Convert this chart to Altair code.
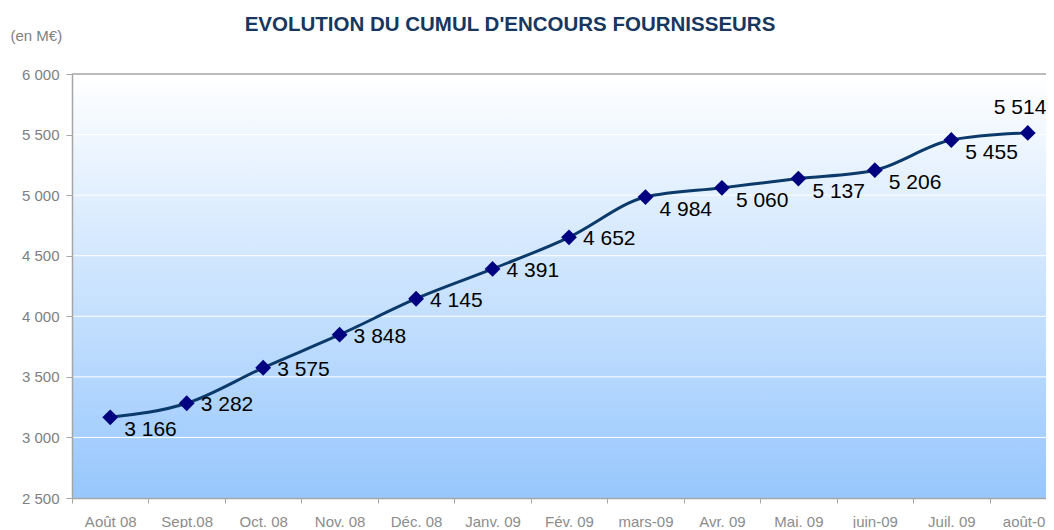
import altair as alt
import pandas as pd

months = ["Août 08", "Sept.08", "Oct. 08", "Nov. 08", "Déc. 08", "Janv. 09", "Fév. 09",
          "mars-09", "Avr. 09", "Mai. 09", "juin-09", "Juil. 09", "août-09"]
encours = [3166, 3282, 3575, 3848, 4145, 4391, 4652, 4984, 5060, 5137, 5206, 5455, 5514]
label_side = ["below", "right", "right", "right", "right", "right", "right",
              "below", "below", "below", "below", "below", "above"]
y_ticks = [2500, 3000, 3500, 4000, 4500, 5000, 5500, 6000]

df = pd.DataFrame({"mois": months, "encours": encours, "side": label_side})
grid_df = pd.DataFrame({"encours": y_ticks[1:-1]})
top_df = pd.DataFrame({"encours": y_ticks[-1:]})

FONT = "Liberation Sans"
GRAY = "#A6A6A6"
W, H = 974, 424          # visible plot area (the page cuts the last band)
XRANGE = 994             # full 13-band width, partly beyond the page edge

yscale = alt.Scale(domain=[2500, 6000], nice=False, zero=False)
yaxis = alt.Axis(values=y_ticks,
                 labelExpr="replace(format(datum.value, ','), ',', ' ')",
                 labelColor="#808080", labelFontSize=15, labelFont=FONT,
                 labelPadding=7, tickSize=6, tickColor=GRAY,
                 domainColor=GRAY, domainWidth=1.5, grid=False, zindex=1,
                 titleAngle=0, titleAlign="left", titleBaseline="middle",
                 titleX=-62, titleY=-39, titleColor="#808080",
                 titleFont=FONT, titleFontSize=15, titleFontWeight="normal")
y = alt.Y("encours:Q", title="(en M€)", scale=yscale, axis=yaxis)

x = alt.X("mois:N", sort=months, title=None,
          scale=alt.Scale(type="band", paddingInner=0, paddingOuter=0, range=[0, XRANGE]),
          axis=alt.Axis(tickBand="extent", labelAngle=0, labelColor="#8C8C8C",
                        labelFontSize=15, labelFont=FONT, labelPadding=11,
                        tickSize=5, tickColor=GRAY, domainColor=GRAY, domainWidth=1.5,
                        grid=False, zindex=1))

bg = alt.Chart(pd.DataFrame({"a": [0]})).mark_rect(
    color=alt.LinearGradient(gradient="linear", x1=0, y1=0, x2=0, y2=1,
                             stops=[alt.GradientStop(offset=0, color="#FFFFFF"),
                                    alt.GradientStop(offset=1, color="#97C7FD")])
).encode(x=alt.value(0), x2=alt.value(W), y=alt.value(0), y2=alt.value(H))

grid = alt.Chart(grid_df).mark_rule(color="#FFFFFF", strokeWidth=1).encode(y=y)
top = alt.Chart(top_df).mark_rule(color=GRAY, strokeWidth=1.5).encode(y=y)

base = alt.Chart(df).encode(x=x, y=y)

line = base.mark_line(color="#0B3A6A", strokeWidth=3, interpolate="monotone")
pts = base.mark_point(shape="diamond", size=250, filled=True, color="#000080", opacity=1)

lab = base.transform_calculate(
    txt="replace(format(datum.encours, ','), ',', ' ')"
)
txt_right = lab.transform_filter("datum.side == 'right'").mark_text(
    align="left", baseline="middle", dx=14, dy=2, fontSize=21, font=FONT, color="#000000"
).encode(text="txt:N")
txt_below = lab.transform_filter("datum.side == 'below'").mark_text(
    align="left", baseline="middle", dx=14, dy=13, fontSize=21, font=FONT, color="#000000"
).encode(text="txt:N")
txt_above = lab.transform_filter("datum.side == 'above'").mark_text(
    align="left", baseline="middle", dx=-34, dy=-25, fontSize=21, font=FONT, color="#000000"
).encode(text="txt:N")

chart = alt.layer(bg, grid, top, line, pts, txt_right, txt_below, txt_above).properties(
    width=W, height=H,
    title=alt.TitleParams("EVOLUTION DU CUMUL D'ENCOURS FOURNISSEURS",
                          font=FONT, fontSize=20.5, fontWeight="bold", color="#17375E",
                          anchor="middle", frame="group", dx=-49, offset=-7),
    autosize=alt.AutoSizeParams(type="none"),
    padding={"left": 64, "top": 66, "right": 0, "bottom": 30},
).configure_view(
    stroke=None
).configure(background="#FFFFFF")

chart.save("out.html", embed_options={"renderer": "svg", "actions": False})
